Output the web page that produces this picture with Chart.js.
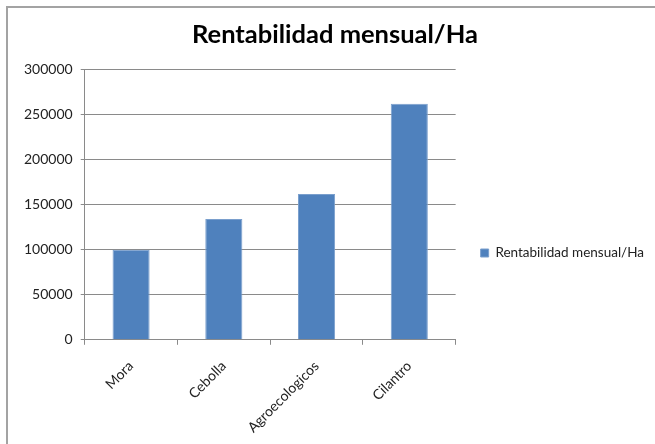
<!DOCTYPE html>
<html>
<head>
<meta charset="utf-8">
<script src="https://cdn.jsdelivr.net/npm/chart.js@4/dist/chart.umd.min.js"></script>
<style>
  html, body { margin: 0; padding: 0; background: #fff; }
  #wrap { position: relative; width: 655px; height: 444px; overflow: hidden; }
  #chart { position: absolute; left: 0; top: 0; }
  #frame {
    position: absolute; left: 6px; top: 6px; right: -10px; bottom: -10px;
    border-left: 2px solid #a3a3a3; border-top: 2px solid #a3a3a3;
    pointer-events: none;
  }
</style>
</head>
<body>
<div id="wrap">
  <canvas id="chart" width="655" height="444"></canvas>
  <div id="frame"></div>
</div>
<script>
// datos
const cultivos = ["Mora", "Cebolla", "Agroecologicos", "Cilantro"];
const rentabilidad = [100000, 134000, 162000, 262000];
const serieNombre = "Rentabilidad mensual/Ha";
const tituloGrafico = "Rentabilidad mensual/Ha";

const fontFam = "Lato, 'Open Sans', sans-serif";
const gridColor = "#8a8a8a";

new Chart("chart", {
  type: "bar",
  data: {
    labels: cultivos,
    datasets: [
      {
        label: serieNombre,
        data: rentabilidad,
        backgroundColor: "#4f81bd",
        borderColor: "#7a9fcd",
        borderWidth: 1,
        barPercentage: 0.4,
        categoryPercentage: 1,
      },
    ],
  },
  options: {
    responsive: false,
    animation: false,
    devicePixelRatio: 1,
    layout: { padding: { left: 16, right: 1, top: 0, bottom: -5 } },
    plugins: {
      title: {
        display: true,
        text: tituloGrafico,
        color: "#000",
        font: { family: fontFam, size: 25.5, weight: "bold" },
        padding: { top: 19, bottom: 20 },
      },
      legend: {
        position: "right",
        maxWidth: 260,
        title: { display: true, text: "", font: { size: 10 }, padding: { top: 45, bottom: 0 } },
        labels: {
          boxWidth: 8,
          boxHeight: 8,
          padding: 25,
          color: "#222",
          font: { family: fontFam, size: 13.5 },
        },
      },
      tooltip: { enabled: false },
    },
    scales: {
      x: {
        offset: true,
        grid: { drawOnChartArea: false, drawTicks: true, tickLength: 5, offset: true, color: gridColor },
        border: { color: gridColor },
        ticks: {
          minRotation: 45,
          maxRotation: 45,
          padding: 13,
          color: "#222",
          font: { family: fontFam, size: 14 },
        },
      },
      y: {
        min: 0,
        max: 300000,
        grid: { color: gridColor, tickLength: 4 },
        border: { color: gridColor },
        ticks: {
          stepSize: 50000,
          padding: 8,
          color: "#222",
          font: { family: fontFam, size: 14 },
          callback: (v) => String(v),
        },
      },
    },
  },
});
</script>
</body>
</html>
